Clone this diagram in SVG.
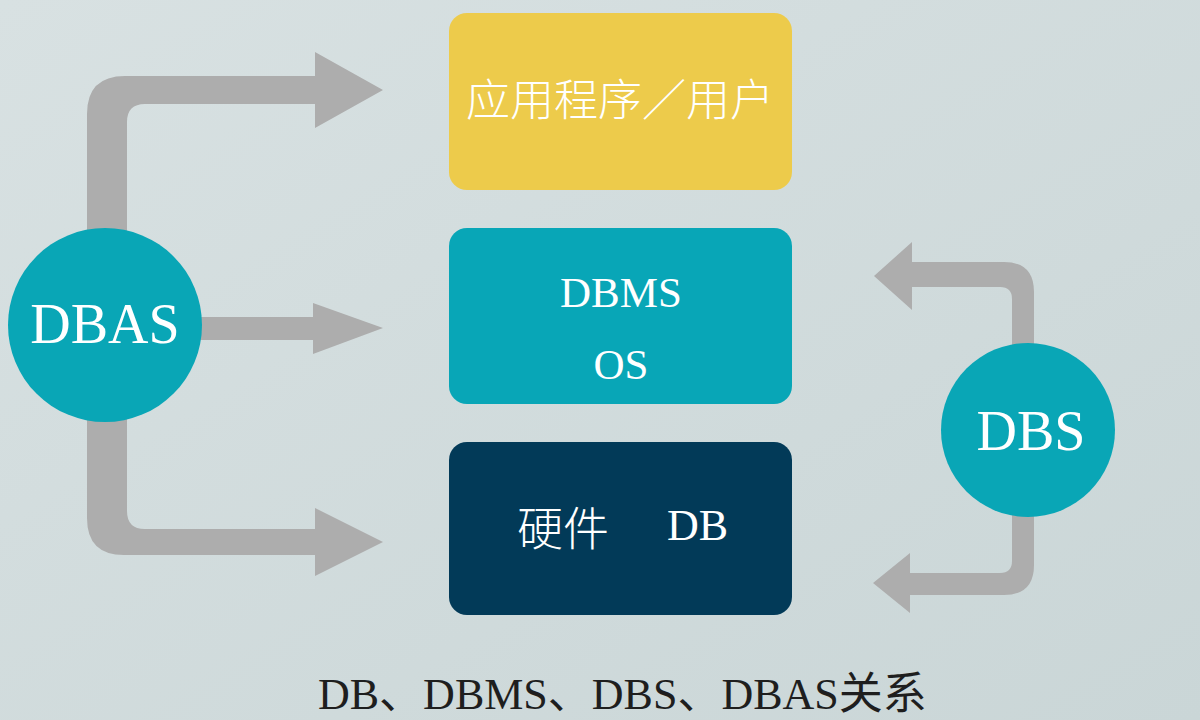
<svg xmlns="http://www.w3.org/2000/svg" width="1200" height="720" viewBox="0 0 1200 720">
  <defs>
    <linearGradient id="bg" x1="0" y1="0" x2="1" y2="1">
      <stop offset="0" stop-color="#D8E1E2"/>
      <stop offset="1" stop-color="#CAD6D7"/>
    </linearGradient>
    <style>
      .arrow { fill: #ADADAD; }
      .circle { fill: #09A6B6; }
      .lat { font-family: "Liberation Serif", "Times New Roman", serif; fill: #FFFFFF; }
      .cjk { font-family: "Noto Sans CJK SC", "Noto Sans", sans-serif; fill: #FFFFFF; }
    </style>
  </defs>
  <rect x="0" y="0" width="1200" height="720" fill="url(#bg)"/>

  <g id="connectors">
    <path class="arrow" d="M 87 260 L 87 114 Q 87 76 125 76 L 315 76 L 315 52 L 383 90 L 315 128 L 315 104 L 145 104 Q 127 104 127 122 L 127 260 Z"/>
    <path class="arrow" d="M 195 317 L 313 317 L 313 303 L 383 328 L 313 354 L 313 340 L 195 340 Z"/>
    <path class="arrow" d="M 87 390 L 87 518 Q 87 555 124 555 L 315 555 L 315 576 L 383 542 L 315 508 L 315 529 L 145 529 Q 127 529 127 511 L 127 390 Z"/>
    <path class="arrow" d="M 1034 360 L 1034 292 Q 1034 262 1004 262 L 912 262 L 912 242 L 874 276 L 912 310 L 912 287 L 1000 287 Q 1012 287 1012 299 L 1012 360 Z"/>
    <path class="arrow" d="M 1034 500 L 1034 565 Q 1034 595 1004 595 L 910 595 L 910 613 L 873 583 L 910 553 L 910 573 L 1000 573 Q 1012 573 1012 561 L 1012 500 Z"/>
  </g>

  <g id="node-app">
    <rect x="449" y="13" width="343" height="177" rx="18" fill="#EDCB4B"/>
    <text class="cjk" x="620" y="116" font-size="44" font-weight="300" text-anchor="middle">应用程序／用户</text>
  </g>

  <g id="node-dbms">
    <rect x="449" y="228" width="343" height="176" rx="18" fill="#08A6B7"/>
    <text class="lat" x="621" y="307" font-size="43" text-anchor="middle">DBMS</text>
    <text class="lat" x="621" y="379" font-size="43" text-anchor="middle">OS</text>
  </g>

  <g id="node-hw">
    <rect x="449" y="442" width="343" height="173" rx="18" fill="#023A58"/>
    <text class="cjk" x="517" y="545" font-size="46" font-weight="300">硬件</text>
    <text class="lat" x="667" y="540" font-size="44">DB</text>
  </g>

  <g id="node-dbas">
    <circle class="circle" cx="105" cy="325" r="97"/>
    <text class="lat" x="105" y="343" font-size="56" text-anchor="middle">DBAS</text>
  </g>

  <g id="node-dbs">
    <circle class="circle" cx="1028" cy="430" r="87"/>
    <text class="lat" x="1031" y="450" font-size="56" text-anchor="middle">DBS</text>
  </g>

  <g id="title">
    <text x="318" y="709" font-size="44" fill="#1E1E1E" font-family="Liberation Serif, Noto Sans CJK SC, serif">DB、DBMS、DBS、DBAS关系</text>
  </g>
</svg>
